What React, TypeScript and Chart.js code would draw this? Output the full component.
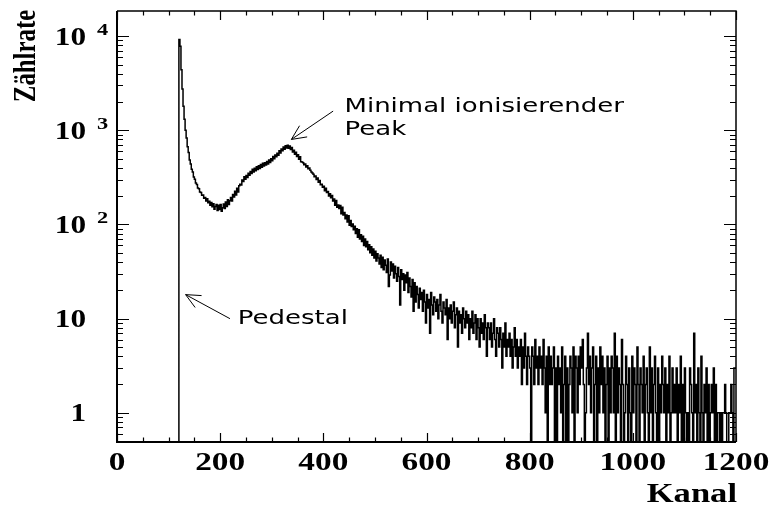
import { useEffect, useRef } from 'react';
import { Chart, registerables } from 'chart.js';

Chart.register(...registerables);

// ---- Histogram data (counts per 2-channel bin, starting at channel 120) ----
const FIRST_CHANNEL = 120;
const BIN_WIDTH = 2;
const LAST_CHANNEL = 1200;
// empty bins are drawn just below the axis floor (log axis cannot show 0)
const ZERO_DRAW_LEVEL = 0.1;

// channels 120 .. 238
const countsPedestal = [
  9200, 7800, 4400, 2750, 1800, 1310, 1000, 830, 670, 580,
  485, 440, 385, 360, 320, 303, 276, 266, 244, 239,
  222, 219, 205, 206, 190, 194, 178, 188, 170, 176,
  160, 171, 154, 166, 145, 155, 163, 141, 160, 144,
  163, 138, 151, 165, 148, 173, 155, 183, 163, 179,
  193, 178, 208, 196, 225, 206, 242, 222, 258, 268,
];
// channels 240 .. 358
const countsPeak = [
  262, 296, 286, 322, 302, 331, 316, 350, 334, 366,
  348, 386, 362, 395, 372, 410, 384, 420, 394, 433,
  405, 446, 417, 452, 428, 468, 438, 484, 456, 500,
  476, 526, 500, 546, 524, 572, 542, 606, 574, 634,
  606, 666, 630, 686, 650, 694, 646, 680, 624, 656,
  590, 616, 556, 584, 528, 552, 492, 524, 464, 462,
];
// channels 360 .. 478
const countsFallA = [
  452, 431, 440, 408, 421, 390, 398, 377, 360, 352,
  341, 322, 328, 300, 311, 281, 293, 265, 268, 248,
  255, 228, 242, 219, 224, 201, 212, 192, 203, 178,
  186, 160, 180, 152, 161, 148, 159, 130, 152, 126,
  134, 115, 126, 106, 124, 98, 110, 95, 101, 88,
  96, 80, 90, 73, 88, 70, 78, 66, 75, 60,
];
// channels 480 .. 598
const countsFallB = [
  70, 58, 66, 54, 61, 50, 58, 47, 55, 44,
  52, 41, 49, 44, 38, 47, 35, 45, 33, 42,
  37, 31, 43, 22, 29, 40, 32, 38, 27, 36,
  30, 25, 35, 28, 14, 33, 26, 30, 20, 29,
  24, 31, 19, 27, 22, 17, 26, 12, 24, 15,
  22, 18, 13, 21, 16, 19, 12, 20, 15, 9,
];
// channels 600 .. 718
const countsTailA = [
  18, 13, 16, 7, 19, 14, 11, 17, 15, 12,
  16, 10, 14, 18, 12, 9, 15, 13, 11, 16,
  6, 13, 10, 14, 9, 12, 15, 8, 11, 13,
  5, 12, 9, 11, 7, 13, 10, 8, 12, 9,
  11, 6, 10, 8, 12, 7, 9, 11, 6, 10,
  8, 5, 10, 7, 9, 6, 11, 8, 4, 9,
];
// channels 720 .. 838
const countsTailB = [
  8, 6, 9, 5, 7, 10, 6, 4, 8, 7,
  5, 8, 6, 3, 7, 5, 9, 4, 6, 5,
  7, 4, 6, 3, 5, 8, 4, 6, 3, 5,
  4, 6, 2, 5, 3, 7, 4, 2, 5, 4,
  3, 0, 5, 4, 2, 6, 3, 4, 2, 5,
  3, 4, 2, 6, 3, 1, 4, 0, 5, 2,
];
// channels 840 .. 958
const countsTailC = [
  4, 2, 3, 5, 0, 3, 0, 4, 2, 3,
  1, 5, 0, 2, 4, 0, 3, 0, 2, 4,
  3, 1, 5, 0, 4, 3, 1, 4, 2, 5,
  3, 6, 2, 0, 1, 3, 7, 2, 4, 1,
  3, 5, 0, 2, 4, 0, 3, 1, 5, 2,
  4, 1, 3, 0, 2, 4, 0, 3, 1, 4,
];
// channels 960 .. 1078
const countsTailD = [
  3, 1, 7, 0, 4, 1, 3, 2, 0, 6,
  2, 0, 1, 4, 2, 0, 3, 1, 0, 4,
  1, 3, 2, 0, 5, 2, 0, 3, 2, 1,
  4, 0, 2, 3, 1, 0, 5, 1, 3, 0,
  2, 4, 1, 0, 3, 0, 2, 1, 4, 2,
  1, 3, 0, 2, 1, 4, 0, 1, 3, 1,
];
// channels 1080 .. 1198
const countsTailE = [
  2, 1, 3, 0, 2, 1, 4, 0, 2, 0,
  3, 1, 0, 1, 0, 3, 2, 1, 0, 7,
  1, 2, 0, 3, 1, 0, 4, 1, 0, 2,
  1, 3, 0, 2, 0, 1, 2, 1, 3, 0,
  2, 0, 1, 1, 0, 1, 0, 1, 1, 2,
  1, 0, 0, 1, 1, 2, 1, 0, 3, 3,
];

// ---- Axes ----
const X_MIN = 0;
const X_MAX = 1200;
const Y_MIN = 0.49;
const Y_MAX = 18500;

const xMajorTicks = [0, 200, 400, 600, 800, 1000, 1200];
const xTickLabels = ['0', '200', '400', '600', '800', '1000', '1200'];
const xMinorTicks = [50, 100, 150, 250, 300, 350, 450, 500, 550, 650, 700, 750, 850, 900, 950, 1050, 1100, 1150];

const yMajorTicks = [1, 10, 100, 1000, 10000];
const yLabelBase = ['1', '10', '10', '10', '10'];
const yLabelExp = ['', '', '2', '3', '4'];
const yMinorTicks = [
  0.5, 0.6, 0.7, 0.8, 0.9,
  2, 3, 4, 5, 6, 7, 8, 9,
  20, 30, 40, 50, 60, 70, 80, 90,
  200, 300, 400, 500, 600, 700, 800, 900,
  2000, 3000, 4000, 5000, 6000, 7000, 8000, 9000,
];

const xTitle = 'Kanal';
const yTitle = 'Zählrate';

// annotations (anchored in data coordinates: channel, count)
const peakLabelLines = ['Minimal ionisierender', 'Peak'];
const peakLabelAnchor = [{ x: 441, y: 1556 }, { x: 441, y: 887 }];
const peakArrow = { tipX: 338, tipY: 800, tailX: 419, tailY: 1600 };
const pedestalLabel = 'Pedestal';
const pedestalLabelAnchor = { x: 234, y: 8.8 };
const pedestalArrow = { tipX: 133, tipY: 18, tailX: 219, tailY: 10 };

function drawText(
  ctx: CanvasRenderingContext2D,
  text: string,
  x: number,
  y: number,
  font: string,
  stretch: number,
  align: CanvasTextAlign,
  rotate = 0
) {
  ctx.save();
  ctx.translate(x, y);
  if (rotate) ctx.rotate(rotate);
  ctx.scale(stretch, 1);
  ctx.font = font;
  ctx.textAlign = align;
  ctx.textBaseline = 'alphabetic';
  ctx.fillStyle = '#000';
  ctx.fillText(text, 0, 0);
  ctx.restore();
}

function drawArrow(ctx: CanvasRenderingContext2D, tx: number, ty: number, sx: number, sy: number) {
  const ang = Math.atan2(sy - ty, sx - tx);
  const len = 16;
  const spread = (25 * Math.PI) / 180;
  ctx.save();
  ctx.strokeStyle = '#000';
  ctx.lineWidth = 1;
  ctx.beginPath();
  ctx.moveTo(sx, sy);
  ctx.lineTo(tx, ty);
  ctx.moveTo(tx + len * Math.cos(ang + spread), ty + len * Math.sin(ang + spread));
  ctx.lineTo(tx, ty);
  ctx.lineTo(tx + len * Math.cos(ang - spread), ty + len * Math.sin(ang - spread));
  ctx.stroke();
  ctx.restore();
}

const framePlugin = {
  id: 'pawFrame',
  afterDraw(chart: any) {
    const ctx: CanvasRenderingContext2D = chart.ctx;
    const { left, right, top, bottom } = chart.chartArea;
    const xs = chart.scales.x;
    const ys = chart.scales.y;
    ctx.save();
    ctx.strokeStyle = '#000';

    // frame
    ctx.lineWidth = 1.5;
    ctx.beginPath();
    ctx.moveTo(left, top);
    ctx.lineTo(right, top);
    ctx.lineTo(right, bottom);
    ctx.stroke();
    ctx.lineWidth = 2;
    ctx.beginPath();
    ctx.moveTo(left, top);
    ctx.lineTo(left, bottom);
    ctx.lineTo(right, bottom);
    ctx.stroke();

    // x ticks (inward, bottom and top)
    ctx.lineWidth = 1.2;
    ctx.beginPath();
    for (const v of xMajorTicks) {
      const px = Math.round(xs.getPixelForValue(v)) + 0.5;
      ctx.moveTo(px, bottom);
      ctx.lineTo(px, bottom - 9);
      ctx.moveTo(px, top);
      ctx.lineTo(px, top + 9);
    }
    for (const v of xMinorTicks) {
      const px = Math.round(xs.getPixelForValue(v)) + 0.5;
      ctx.moveTo(px, bottom);
      ctx.lineTo(px, bottom - 4.5);
      ctx.moveTo(px, top);
      ctx.lineTo(px, top + 4.5);
    }
    // y ticks (inward, left and right)
    for (const v of yMajorTicks) {
      const py = Math.round(ys.getPixelForValue(v)) + 0.5;
      ctx.moveTo(left, py);
      ctx.lineTo(left + 12, py);
      ctx.moveTo(right, py);
      ctx.lineTo(right - 12, py);
    }
    for (const v of yMinorTicks) {
      const py = Math.round(ys.getPixelForValue(v)) + 0.5;
      ctx.moveTo(left, py);
      ctx.lineTo(left + 6, py);
      ctx.moveTo(right, py);
      ctx.lineTo(right - 6, py);
    }
    ctx.stroke();
    ctx.restore();

    const labelFont = 'bold 26px "Liberation Serif", "Times New Roman", serif';
    // x labels
    xMajorTicks.forEach((v, i) => {
      const px = xs.getPixelForValue(v);
      drawText(ctx, xTickLabels[i], px, bottom + 28, labelFont, 1.28, 'center');
    });
    // y labels
    yMajorTicks.forEach((v, i) => {
      const py = ys.getPixelForValue(v);
      drawText(ctx, yLabelBase[i], left - 31, py + 8.5, 'bold 25px "Liberation Serif", serif', 1.25, 'right');
      if (yLabelExp[i]) {
        drawText(ctx, yLabelExp[i], left - 20, py - 1, 'bold 16px "Liberation Serif", serif', 1.4, 'left');
      }
    });

    // axis titles
    drawText(ctx, xTitle, right + 1, bottom + 60, 'bold 27px "Liberation Serif", serif', 1.28, 'right');
    drawText(ctx, yTitle, 35, (top + 103) / 2 - 1, 'bold 31px "Liberation Serif", serif', 0.8, 'center', -Math.PI / 2);

    // annotations
    const annFont = '20px "DejaVu Sans", sans-serif';
    peakLabelLines.forEach((t, i) => {
      const a = peakLabelAnchor[i];
      drawText(ctx, t, xs.getPixelForValue(a.x), ys.getPixelForValue(a.y), annFont, 1.3, 'left');
    });
    drawText(
      ctx,
      pedestalLabel,
      xs.getPixelForValue(pedestalLabelAnchor.x),
      ys.getPixelForValue(pedestalLabelAnchor.y),
      annFont,
      1.3,
      'left'
    );
    drawArrow(
      ctx,
      xs.getPixelForValue(peakArrow.tipX),
      ys.getPixelForValue(peakArrow.tipY),
      xs.getPixelForValue(peakArrow.tailX),
      ys.getPixelForValue(peakArrow.tailY)
    );
    drawArrow(
      ctx,
      xs.getPixelForValue(pedestalArrow.tipX),
      ys.getPixelForValue(pedestalArrow.tipY),
      xs.getPixelForValue(pedestalArrow.tailX),
      ys.getPixelForValue(pedestalArrow.tailY)
    );
  },
};

export default function App() {
  const canvasRef = useRef<HTMLCanvasElement | null>(null);

  useEffect(() => {
    if (!canvasRef.current) return;
    const counts = [
      ...countsPedestal,
      ...countsPeak,
      ...countsFallA,
      ...countsFallB,
      ...countsTailA,
      ...countsTailB,
      ...countsTailC,
      ...countsTailD,
      ...countsTailE,
    ];
    const level = (c: number) => (c > 0 ? c : ZERO_DRAW_LEVEL);
    const points: { x: number; y: number }[] = [{ x: X_MIN, y: ZERO_DRAW_LEVEL }];
    counts.forEach((c, i) => points.push({ x: FIRST_CHANNEL + i * BIN_WIDTH, y: level(c) }));
    points.push({ x: LAST_CHANNEL, y: level(counts[counts.length - 1]) });

    const chart = new Chart(canvasRef.current, {
      type: 'line',
      data: {
        datasets: [
          {
            data: points,
            borderColor: '#000',
            borderWidth: 1.5,
            pointRadius: 0,
            fill: false,
            stepped: 'before',
            tension: 0,
          },
        ],
      },
      options: {
        animation: false,
        responsive: false,
        events: [],
        layout: { padding: { left: 117, right: 35, top: 11, bottom: 63 } },
        plugins: { legend: { display: false }, tooltip: { enabled: false } },
        scales: {
          x: { type: 'linear', min: X_MIN, max: X_MAX, display: false },
          y: { type: 'logarithmic', min: Y_MIN, max: Y_MAX, display: false },
        },
      },
      plugins: [framePlugin],
    });
    return () => chart.destroy();
  }, []);

  return (
    <div style={{ position: 'fixed', left: 0, top: 0, width: 771, height: 505, background: '#fff' }}>
      <canvas ref={canvasRef} width={771} height={505} style={{ display: 'block' }} />
    </div>
  );
}
